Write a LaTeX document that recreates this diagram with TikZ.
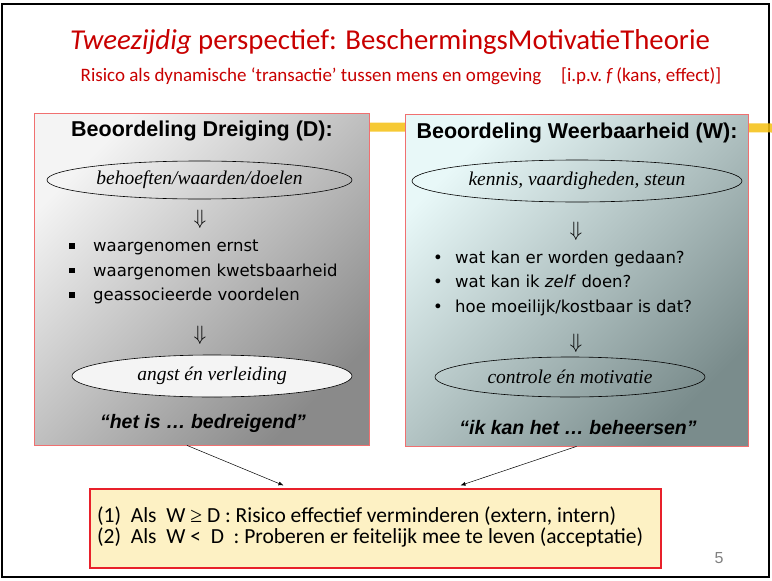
\documentclass[tikz,border=0pt]{standalone}
\usepackage{fontspec}
\setmainfont{Carlito}
\newfontfamily\arialfont{Liberation Sans}
\newfontfamily\verdfont{DejaVu Sans}
\newfontfamily\timesfont{Liberation Serif}
\usetikzlibrary{shapes.geometric,arrows.meta}
\definecolor{titlered}{HTML}{C80000}
\definecolor{boxred}{HTML}{F07070}
\definecolor{alarmred}{HTML}{E8202A}
\definecolor{pastelyellow}{HTML}{FDF1C4}
\definecolor{marker}{HTML}{F5C010}
\definecolor{graylight}{HTML}{F4F4F4}
\definecolor{graydark}{HTML}{8A8A8A}
\definecolor{tealight}{HTML}{E8F8F8}
\definecolor{tealdark}{HTML}{7A8C8C}
\newcommand{\blokje}{\makebox[24pt][l]{\raisebox{3pt}{\rule{5.5pt}{5.5pt}}}}
\newcommand{\stip}{\makebox[22pt][l]{•}}
\begin{document}
\begin{tikzpicture}[x=1pt,y=-1pt]
  \tikzset{panel/.style={draw=boxred,line width=0.8pt,minimum width=#1,minimum height=332pt,inner sep=0pt},
    kop/.style={font=\arialfont\bfseries\fontsize{21.5}{24}\selectfont},
    wolk/.style={draw,ellipse,line width=0.6pt,inner sep=0pt,font=\timesfont\itshape\fontsize{19.5}{22}\selectfont},
    pijl/.style={font=\fontsize{22}{24}\selectfont},
    lijst/.style={align=left,inner sep=0pt,anchor=west,font=\verdfont\fontsize{16.5}{24.5}\selectfont},
    citaat/.style={font=\arialfont\bfseries\itshape\fontsize{19.5}{22}\selectfont},
    regel/.style={anchor=west,inner sep=0pt,font=\fontsize{21.5}{24}\selectfont}}

  \useasboundingbox (0,0) rectangle (772,581);
  \draw[line width=2.5pt] (2,4) rectangle (769,577);
  \draw[marker,line width=9pt,opacity=0.85] (352,127) -- (772,128);

  \node[titlered,font=\fontsize{28.8}{32}\selectfont] (titel) at (390,42) {\textit{Tweezijdig} perspectief: BeschermingsMotivatieTheorie};
  \node[titlered,font=\fontsize{19}{22}\selectfont] (ondertitel) at (401,76) {Risico als dynamische ‘transactie’ tussen mens en omgeving\hspace{20pt}[i.p.v.\ \textit{f}\,(kans, effect)]};

  \node[panel=335pt,top color=graylight,bottom color=graydark,shading angle=45] (dreiging) at (201.5,279) {};
  \node[kop] (kopD) at (202,131) {Beoordeling Dreiging (D):};
  \node[wolk,minimum width=305pt,minimum height=38pt] (behoeften) at (199.5,180) {behoeften/waarden/doelen};
  \node[pijl] (pijlD1) at (200,219) {$\Downarrow$};
  \node[lijst] (lijstD) at (69,272) {\blokje waargenomen ernst\\\blokje waargenomen kwetsbaarheid\\\blokje geassocieerde voordelen};
  \node[pijl] (pijlD2) at (200,335) {$\Downarrow$};
  \node[wolk,fill=graylight,minimum width=280pt,minimum height=42pt] (angst) at (212,376) {angst én verleiding};
  \node[citaat] (citaatD) at (203,423) {“het is … bedreigend”};

  \node[panel=343pt,top color=tealight,bottom color=tealdark,shading angle=45] (weerbaar) at (576.5,280) {};
  \node[kop] (kopW) at (577,133) {Beoordeling Weerbaarheid (W):};
  \node[wolk,minimum width=330pt,minimum height=42pt] (kennis) at (577,181) {kennis, vaardigheden, steun};
  \node[pijl] (pijlW1) at (576,231) {$\Downarrow$};
  \node[lijst] (lijstW) at (433,283) {\stip wat kan er worden gedaan?\\\stip wat kan ik \textit{zelf} doen?\\\stip hoe moeilijk/kostbaar is dat?};
  \node[pijl] (pijlW2) at (576,343) {$\Downarrow$};
  \node[wolk,minimum width=270pt,minimum height=40pt] (controle) at (570,377) {controle én motivatie};
  \node[citaat] (citaatW) at (578,428) {“ik kan het … beheersen”};

  \node[draw=alarmred,line width=1.2pt,fill=pastelyellow,minimum width=571pt,minimum height=79pt,inner sep=0pt] (uitkomst) at (375.5,528.5) {};
  \node[regel] (regel1) at (97,516) {(1)\ \ Als\ \ W {\timesfont ≥} D : Risico effectief verminderen (extern, intern)};
  \node[regel] (regel2) at (97,537) {(2)\ \ Als\ \ W <\ \ D\ \ : Proberen er feitelijk mee te leven (acceptatie)};
  \node[gray,font=\arialfont\fontsize{16}{18}\selectfont] (pagina) at (719,558) {5};

  \draw[-{Latex[length=5pt,width=4pt]},line width=0.5pt] ([xshift=-14.5pt]dreiging.south) -- ([xshift=-92pt,yshift=3pt]uitkomst.north);
  \draw[-{Latex[length=5pt,width=4pt]},line width=0.5pt] (weerbaar.south) -- ([xshift=85pt,yshift=3pt]uitkomst.north);
\end{tikzpicture}
\end{document}
